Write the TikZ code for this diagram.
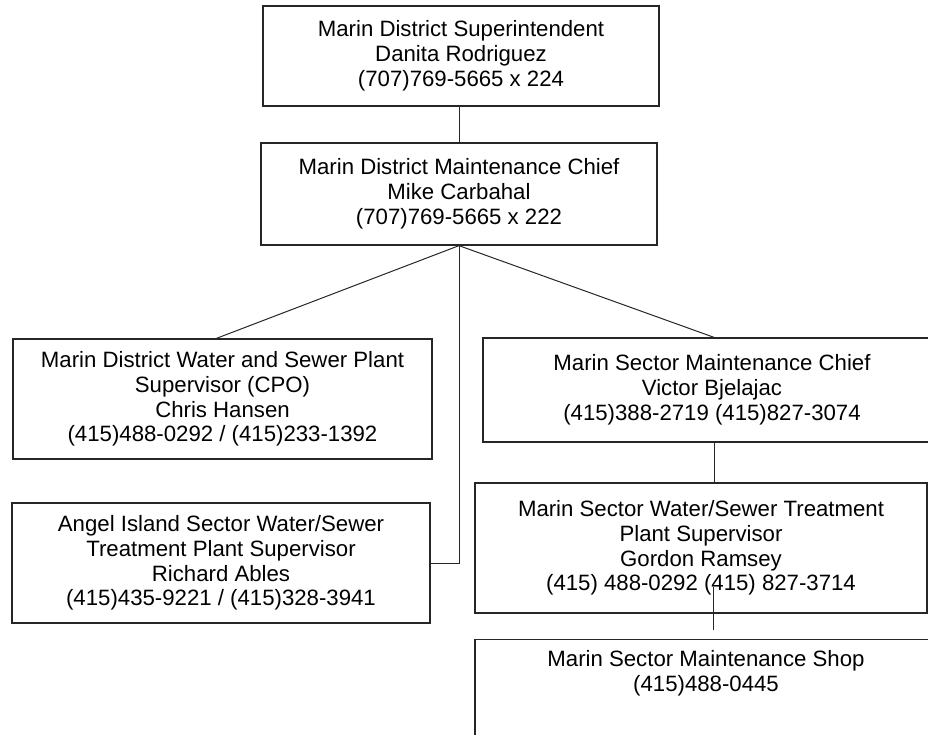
\documentclass[tikz,border=0pt]{standalone}
\usepackage{fontspec}
\setmainfont{Liberation Sans}
\tikzset{
  orgfont/.style={font=\fontsize{22.2}{24.8}\selectfont},
  orgbox/.style={draw=black!85, line width=1.3pt, align=center, inner sep=0pt, orgfont},
  link/.style={draw=black!85, line width=1pt}
}
\begin{document}
\begin{tikzpicture}[x=1pt,y=-1pt]
\useasboundingbox (0,0) rectangle (928,735);
\clip (0,0) rectangle (928,735);
\node[orgbox, minimum width=396pt, minimum height=100pt] (sup) at (461,56)
  {Marin District Superintendent\\Danita Rodriguez\\(707)769-5665 x 224};
\node[orgbox, minimum width=396pt, minimum height=102pt] (chief) at (459,194)
  {Marin District Maintenance Chief\\Mike Carbahal\\(707)769-5665 x 222};
\node[orgbox, minimum width=419pt, minimum height=120pt] (plant) at (222.5,399)
  {Marin District Water and Sewer Plant\\Supervisor (CPO)\\Chris Hansen\\(415)488-0292 / (415)233-1392};
\node[orgbox, minimum width=418pt, minimum height=120pt] (angel) at (221,563)
  {Angel Island Sector Water/Sewer\\Treatment Plant Supervisor\\Richard Ables\\(415)435-9221 / (415)328-3941};
\node[orgbox, minimum width=458pt, minimum height=104pt] (sector) at (712,390)
  {Marin Sector Maintenance Chief\\Victor Bjelajac\\(415)388-2719 (415)827-3074};
\node[orgbox, minimum width=452pt, minimum height=130pt] (gordon) at (701,548)
  {Marin Sector Water/Sewer Treatment\\Plant Supervisor\\Gordon Ramsey\\(415) 488-0292 (415) 827-3714};
\node[orgbox, minimum width=462pt, minimum height=130pt, anchor=north] (shop) at (706,639) {};
\node[orgfont, align=center, anchor=north, inner sep=0pt] (shoptext) at (706,650)
  {Marin Sector Maintenance Shop\\(415)488-0445};
\coordinate (hub) at (chief.south);
\coordinate (gtop) at (713,587);
\coordinate (gend) at (713,630);
\draw[link] (sup.south -| hub) -- (chief.north -| hub);
\draw[link] (hub) -- ([xshift=-6pt]plant.north);
\draw[link] (hub) -- ([xshift=2pt]sector.north);
\draw[link] (hub) |- (angel.east);
\draw[link] ([xshift=2pt]sector.south) -- ([xshift=13pt]gordon.north);
\draw[link] (gtop) -- (gend);
\end{tikzpicture}
\end{document}
